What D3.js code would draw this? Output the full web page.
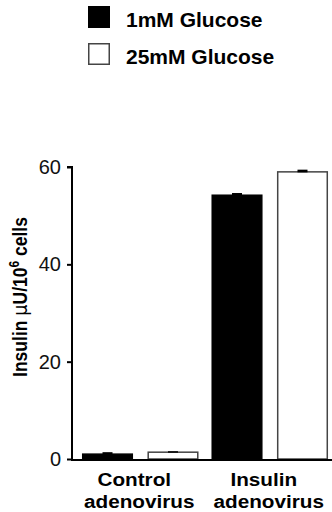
<!DOCTYPE html>
<html>
<head>
<meta charset="utf-8">
<script src="https://cdn.jsdelivr.net/npm/d3@7"></script>
<style>
  html, body { margin: 0; padding: 0; background: #fff; }
  svg { display: block; font-family: 'Liberation Sans', Arial, sans-serif; }
</style>
</head>
<body>
<script>
const GROUPS = ['Control adenovirus', 'Insulin adenovirus']
const SERIES = ['1mM Glucose', '25mM Glucose']
const MEANS_1MM = [1.0, 54.2]
const MEANS_25MM = [1.4, 59.0]
const ERRORS_1MM = [0.3, 0.35]
const ERRORS_25MM = [0.1, 0.35]
const Y_TICKS = [0, 20, 40, 60]

const buildChart = () => {
  const SIZE = { WIDTH: 332, HEIGHT: 512 },
    FILLS = ['#000', '#fff'],
    STROKES = ['#000', '#444']

  const rows = GROUPS.map((g, i) => ({
    group: g,
    values: [
      { key: SERIES[0], mean: MEANS_1MM[i], err: ERRORS_1MM[i], idx: 0 },
      { key: SERIES[1], mean: MEANS_25MM[i], err: ERRORS_25MM[i], idx: 1 }
    ]
  }))

  const svg = d3.select('body').append('svg')
    .attr('width', SIZE.WIDTH)
    .attr('height', SIZE.HEIGHT)

  const y = d3.scaleLinear().domain([0, 60]).range([459, 167])
  const x0 = d3.scaleBand().domain(GROUPS).range([72, 338])
    .paddingInner(0.1).paddingOuter(0.077)
  const x1 = d3.scaleBand().domain(SERIES).range([0, x0.bandwidth()])
    .paddingInner(0.22)

  // legend
  const legend = svg.append('g').attr('transform', 'translate(88, 6)')
  const item = legend.selectAll('g').data(SERIES).enter().append('g')
    .attr('transform', (d, i) => `translate(0, ${i * 37})`)
  item.append('rect')
    .attr('x', 0.75).attr('y', 0.75)
    .attr('width', 20.5).attr('height', 20.5)
    .attr('fill', (d, i) => FILLS[i])
    .attr('stroke', (d, i) => STROKES[i])
    .attr('stroke-width', 1.5)
  item.append('text')
    .attr('x', 38).attr('y', 20.5)
    .attr('font-size', 21).attr('font-weight', 'bold')
    .text(d => d)

  // bars
  const group = svg.append('g').selectAll('g').data(rows).enter().append('g')
    .attr('transform', d => `translate(${x0(d.group)}, 0)`)

  group.selectAll('rect.bar').data(d => d.values).enter().append('rect')
    .attr('class', 'bar')
    .attr('x', d => x1(d.key) + 0.75)
    .attr('width', x1.bandwidth() - 1.5)
    .attr('y', d => y(d.mean))
    .attr('height', d => y(0) - y(d.mean))
    .attr('fill', d => FILLS[d.idx])
    .attr('stroke', d => STROKES[d.idx])
    .attr('stroke-width', 1.5)

  group.selectAll('rect.err').data(d => d.values).enter().append('rect')
    .attr('class', 'err')
    .attr('x', d => x1(d.key) + x1.bandwidth() / 2 - 5)
    .attr('width', 10)
    .attr('y', d => y(d.mean + d.err) - 0.5)
    .attr('height', d => y(d.mean) - y(d.mean + d.err) + 1)
    .attr('fill', '#000')

  // y axis
  const yAxis = svg.append('g')
    .attr('transform', 'translate(72, 0)')
    .call(d3.axisLeft(y).tickValues(Y_TICKS).tickSize(5).tickPadding(6))
  yAxis.selectAll('path, line').attr('stroke', '#000').attr('stroke-width', 2)
  yAxis.select('.domain').attr('d', `M-5,${y(60)}H0V${y(0) + 1}`)
  yAxis.selectAll('text')
    .attr('font-size', 20).attr('font-family', "'Liberation Sans', Arial, sans-serif")
    .attr('fill', '#111')

  // x axis line
  svg.append('line')
    .attr('x1', 71).attr('x2', SIZE.WIDTH)
    .attr('y1', y(0) + 1).attr('y2', y(0) + 1)
    .attr('stroke', '#000').attr('stroke-width', 2)

  // x labels, two lines each, slightly stretched like the source
  const cx = d => x0(d) + x0.bandwidth() / 2
  const xl = svg.append('g').selectAll('g').data(GROUPS).enter().append('g')
  xl.append('text')
    .attr('transform', d => `translate(${cx(d) - 6}, 486) scale(1.12, 1)`)
    .attr('text-anchor', 'middle')
    .attr('font-size', 18.5).attr('font-weight', 'bold')
    .text(d => d.split(' ')[0])
  xl.append('text')
    .attr('transform', d => `translate(${cx(d) - 1}, 507.5) scale(1.12, 1)`)
    .attr('text-anchor', 'middle')
    .attr('font-size', 18.5).attr('font-weight', 'bold')
    .text(d => d.split(' ')[1])

  // y title
  const title = svg.append('text')
    .attr('text-anchor', 'middle')
    .attr('font-size', 17.5).attr('font-weight', 'bold')
  title.append('tspan').text('Insulin ')
  title.append('tspan').attr('font-weight', 'normal').attr('font-family', "'DejaVu Sans', sans-serif").text('\u03bc')
  title.append('tspan').text('U/10')
  title.append('tspan').attr('font-size', 12).attr('dy', -7).text('6')
  title.append('tspan').attr('dy', 7).text(' cells')
  const len = title.node().getComputedTextLength()
  title.attr('transform', `translate(27, 297) rotate(-90) scale(${160 / len}, 1.15)`)
}

document.addEventListener('DOMContentLoaded', buildChart)
</script>
</body>
</html>
